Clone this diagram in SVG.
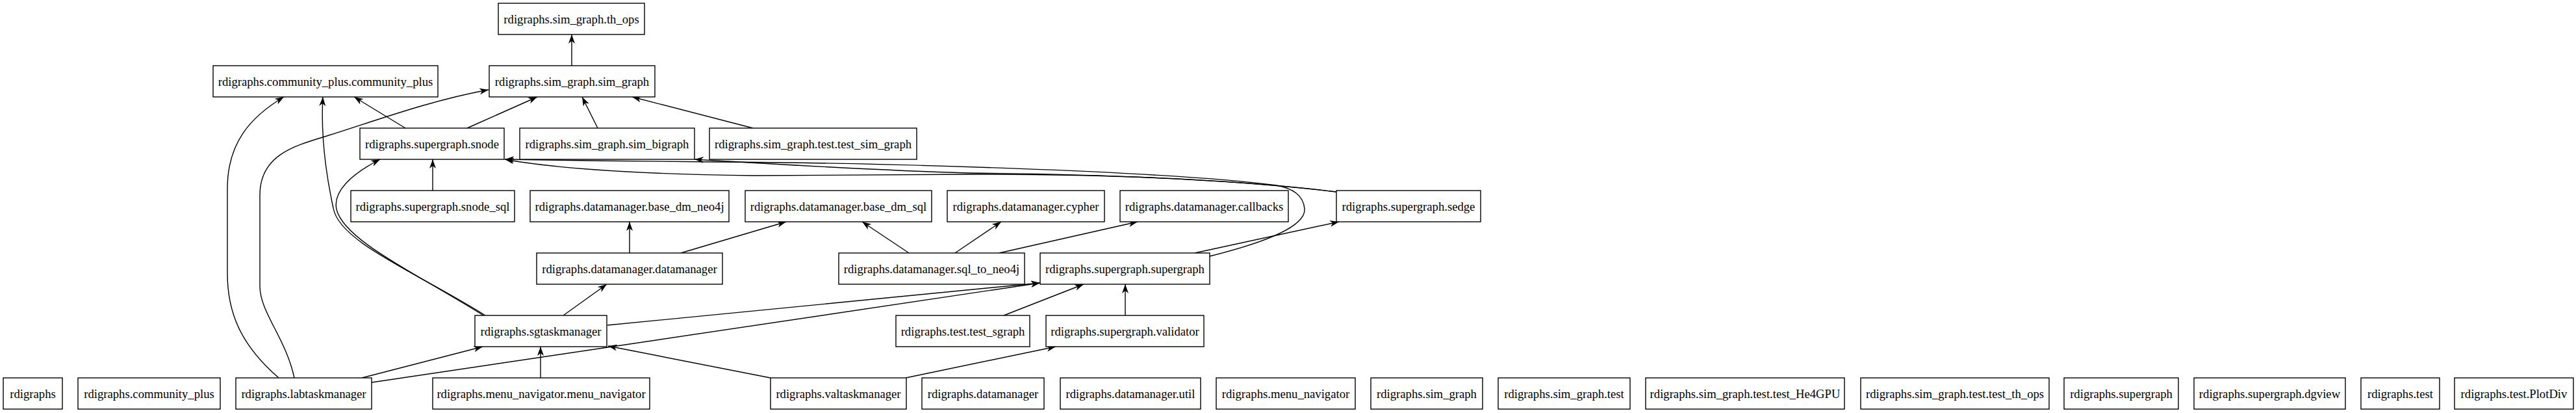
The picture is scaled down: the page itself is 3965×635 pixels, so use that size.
<svg xmlns="http://www.w3.org/2000/svg" width="3965" height="635" viewBox="0 0 3965 635">
<style>
.n rect{fill:#fff;stroke:#000;stroke-width:1.4}
.n text{font-family:"Liberation Serif","Times New Roman",serif;font-size:18.67px;text-anchor:middle;fill:#000}
.e path{fill:none;stroke:#000;stroke-width:1.4;marker-end:url(#ah)}
</style>
<defs>
<marker id="ah" markerUnits="userSpaceOnUse" viewBox="0 0 14 10" markerWidth="14" markerHeight="10" refX="14" refY="5" orient="auto">
<path d="M0,0 L14,5 L0,10 L4,5 Z" fill="#000" stroke="none"/>
</marker>
</defs>
<rect width="3965" height="635" fill="#fff"/>
<g id="edges" class="e">
<path d="M880,101 L880,53"/>
<path d="M624,197 L545,149"/>
<path d="M719,197 L827,149"/>
<path d="M920,197 L896,149"/>
<path d="M1159,197 L973,149"/>
<path d="M666,293 L666,245"/>
<path d="M969,389 L969,341"/>
<path d="M1048,389 L1210,341"/>
<path d="M1399,389 L1327,341"/>
<path d="M1470,389 L1541,341"/>
<path d="M1538,389 L1751,341"/>
<path d="M1839,389 L2061,341"/>
<path d="M1862,394 C1950,372 2010,348 2008,321 C2006,300 1990,290 1965,285 C1800,263 1350,250 1100,249 C1000,248 880,247 777,245"/>
<path d="M2057,295 C1900,276 1700,268 1490,266 C1350,262 1200,253 1069,245"/>
<path d="M2057,295 C1900,276 1700,268 1500,268 L1160,270 C1000,268 860,260 777,245"/>
<path d="M867,485 L934,437"/>
<path d="M935,500 L1601,435"/>
<path d="M744,485 C640,420 530,370 518,322 C512,295 540,268 585,245"/>
<path d="M747,485 C640,418 522,372 513,320 C500,260 494,200 497,149"/>
<path d="M1545,485 L1668,437"/>
<path d="M1732,485 L1732,437"/>
<path d="M429,581 C370,530 350,480 350,420 L350,290 C350,220 385,180 437,149"/>
<path d="M453,581 C440,520 400,480 400,440 L400,300 C400,240 450,225 500,210 C580,185 660,155 752,138"/>
<path d="M557,581 L743,533"/>
<path d="M572,588 L1601,435"/>
<path d="M832,581 L832,533"/>
<path d="M1186,581 L936,532"/>
<path d="M1394,581 L1625,533"/>
</g>
<g id="n_th_ops" class="n"><rect x="767" y="5" width="225" height="48"/><text x="879.5" y="35.5">rdigraphs.sim_graph.th_ops</text></g>
<g id="n_cp_cp" class="n"><rect x="328" y="101" width="346" height="48"/><text x="501" y="131.5">rdigraphs.community_plus.community_plus</text></g>
<g id="n_sim_graph_sim_graph" class="n"><rect x="753" y="101" width="255" height="48"/><text x="880.5" y="131.5">rdigraphs.sim_graph.sim_graph</text></g>
<g id="n_snode" class="n"><rect x="554" y="197" width="222" height="48"/><text x="665" y="227.5">rdigraphs.supergraph.snode</text></g>
<g id="n_sim_bigraph" class="n"><rect x="800" y="197" width="269" height="48"/><text x="934.5" y="227.5">rdigraphs.sim_graph.sim_bigraph</text></g>
<g id="n_test_sim_graph" class="n"><rect x="1092" y="197" width="319" height="48"/><text x="1251.5" y="227.5">rdigraphs.sim_graph.test.test_sim_graph</text></g>
<g id="n_snode_sql" class="n"><rect x="540" y="293" width="252" height="48"/><text x="666" y="323.5">rdigraphs.supergraph.snode_sql</text></g>
<g id="n_base_dm_neo4j" class="n"><rect x="816" y="293" width="306" height="48"/><text x="969" y="323.5">rdigraphs.datamanager.base_dm_neo4j</text></g>
<g id="n_base_dm_sql" class="n"><rect x="1147" y="293" width="287" height="48"/><text x="1290.5" y="323.5">rdigraphs.datamanager.base_dm_sql</text></g>
<g id="n_cypher" class="n"><rect x="1458" y="293" width="242" height="48"/><text x="1579" y="323.5">rdigraphs.datamanager.cypher</text></g>
<g id="n_callbacks" class="n"><rect x="1724" y="293" width="259" height="48"/><text x="1853.5" y="323.5">rdigraphs.datamanager.callbacks</text></g>
<g id="n_sedge" class="n"><rect x="2057" y="293" width="222" height="48"/><text x="2168" y="323.5">rdigraphs.supergraph.sedge</text></g>
<g id="n_dm_dm" class="n"><rect x="826" y="389" width="286" height="48"/><text x="969" y="419.5">rdigraphs.datamanager.datamanager</text></g>
<g id="n_sql_to_neo4j" class="n"><rect x="1291" y="389" width="286" height="48"/><text x="1434" y="419.5">rdigraphs.datamanager.sql_to_neo4j</text></g>
<g id="n_sg_sg" class="n"><rect x="1601" y="389" width="261" height="48"/><text x="1731.5" y="419.5">rdigraphs.supergraph.supergraph</text></g>
<g id="n_sgtaskmanager" class="n"><rect x="731" y="485" width="203" height="48"/><text x="832.5" y="515.5">rdigraphs.sgtaskmanager</text></g>
<g id="n_test_sgraph" class="n"><rect x="1379" y="485" width="206" height="48"/><text x="1482" y="515.5">rdigraphs.test.test_sgraph</text></g>
<g id="n_validator" class="n"><rect x="1610" y="485" width="243" height="48"/><text x="1731.5" y="515.5">rdigraphs.supergraph.validator</text></g>
<g id="n_rdigraphs" class="n"><rect x="5" y="581" width="91" height="48"/><text x="50.5" y="611.5">rdigraphs</text></g>
<g id="n_community_plus" class="n"><rect x="120" y="581" width="219" height="48"/><text x="229.5" y="611.5">rdigraphs.community_plus</text></g>
<g id="n_labtaskmanager" class="n"><rect x="363" y="581" width="209" height="48"/><text x="467.5" y="611.5">rdigraphs.labtaskmanager</text></g>
<g id="n_mn_mn" class="n"><rect x="666" y="581" width="334" height="48"/><text x="833" y="611.5">rdigraphs.menu_navigator.menu_navigator</text></g>
<g id="n_valtaskmanager" class="n"><rect x="1186" y="581" width="209" height="48"/><text x="1290.5" y="611.5">rdigraphs.valtaskmanager</text></g>
<g id="n_datamanager" class="n"><rect x="1419" y="581" width="188" height="48"/><text x="1513" y="611.5">rdigraphs.datamanager</text></g>
<g id="n_dm_util" class="n"><rect x="1632" y="581" width="216" height="48"/><text x="1740" y="611.5">rdigraphs.datamanager.util</text></g>
<g id="n_menu_navigator" class="n"><rect x="1872" y="581" width="214" height="48"/><text x="1979" y="611.5">rdigraphs.menu_navigator</text></g>
<g id="n_sim_graph" class="n"><rect x="2110" y="581" width="172" height="48"/><text x="2196" y="611.5">rdigraphs.sim_graph</text></g>
<g id="n_sim_graph_test" class="n"><rect x="2306" y="581" width="203" height="48"/><text x="2407.5" y="611.5">rdigraphs.sim_graph.test</text></g>
<g id="n_test_he4gpu" class="n"><rect x="2533" y="581" width="306" height="48"/><text x="2686" y="611.5">rdigraphs.sim_graph.test.test_He4GPU</text></g>
<g id="n_test_th_ops" class="n"><rect x="2864" y="581" width="290" height="48"/><text x="3009" y="611.5">rdigraphs.sim_graph.test.test_th_ops</text></g>
<g id="n_supergraph" class="n"><rect x="3177" y="581" width="176" height="48"/><text x="3265" y="611.5">rdigraphs.supergraph</text></g>
<g id="n_dgview" class="n"><rect x="3377" y="581" width="233" height="48"/><text x="3493.5" y="611.5">rdigraphs.supergraph.dgview</text></g>
<g id="n_test" class="n"><rect x="3634" y="581" width="121" height="48"/><text x="3694.5" y="611.5">rdigraphs.test</text></g>
<g id="n_plotdiv" class="n"><rect x="3778" y="581" width="183" height="48"/><text x="3869.5" y="611.5">rdigraphs.test.PlotDiv</text></g>
</svg>
